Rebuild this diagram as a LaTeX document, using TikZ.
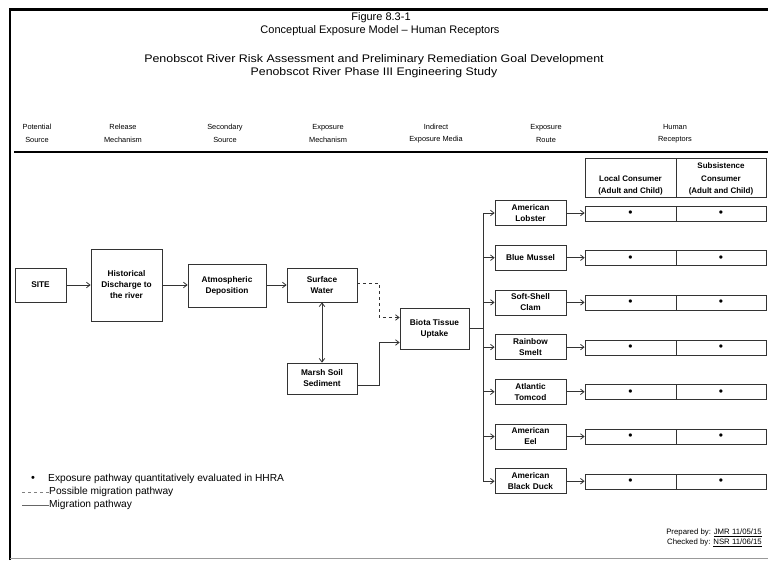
\documentclass[tikz,border=0pt]{standalone}
\usepackage{fontspec}
\usepackage{graphicx}
\setmainfont{Liberation Sans}
\usetikzlibrary{arrows.meta}
\tikzset{
  box/.style={draw=black!80, line width=0.8pt, align=center, inner sep=1pt,
    font=\fontsize{8.3}{11}\selectfont\bfseries},
  routebox/.style={box, minimum width=71pt, minimum height=25pt, text width=66pt},
  cell/.style={draw=black!80, line width=0.8pt, minimum height=15pt, inner sep=0pt,
    font=\fontsize{12}{12}\selectfont},
  hcell/.style={draw=black!80, line width=0.8pt, minimum height=39pt, inner sep=0pt, align=center},
  hcelltext/.style={align=center, inner sep=0pt, font=\fontsize{8}{12.8}\selectfont\bfseries},
  colhead/.style={align=center, font=\fontsize{7.4}{12.5}\selectfont},
  titletext/.style={font=\fontsize{11}{12}\selectfont},
  legtext/.style={anchor=west, inner sep=0pt, font=\fontsize{10.2}{10}\selectfont},
  conn/.style={line width=0.8pt, draw=black!80},
  arr/.style={conn, -{Straight Barb[length=3.5pt,width=5.5pt]}},
  darr/.style={conn, {Straight Barb[length=3.5pt,width=5.5pt]}-{Straight Barb[length=3.5pt,width=5.5pt]}},
}
\begin{document}
\begin{tikzpicture}[x=1pt,y=-1pt]
\useasboundingbox (0,0) rectangle (768,560);
% frame
\draw[line width=2.5pt] (10,560) -- (10,9.5) -- (768,9.5);
\draw[black!40, line width=0.8pt] (10,558.5) -- (768,558.5);
% titles
\node[titletext] (t1) at (381,18) {Figure 8.3-1};
\node[titletext] (t2) at (380,30.5) {Conceptual Exposure Model -- Human Receptors};
\node[titletext] (t3) at (374,60) {\scalebox{1.13}[1]{Penobscot River Risk Assessment and Preliminary Remediation Goal Development}};
\node[titletext] (t4) at (374,72.5) {\scalebox{1.12}[1]{Penobscot River Phase III Engineering Study}};
% column headers
\node[colhead] (h1) at (37,133.5) {Potential\\Source};
\node[colhead] (h2) at (123,133.5) {Release\\Mechanism};
\node[colhead] (h3) at (225,133.5) {Secondary\\Source};
\node[colhead] (h4) at (328,133.5) {Exposure\\Mechanism};
\node[colhead] (h5) at (436,133.5) {Indirect\\Exposure Media};
\node[colhead] (h6) at (546,133.5) {Exposure\\Route};
\node[colhead] (h7) at (675,133.5) {Human\\Receptors};
\draw[line width=1.6pt] (14,152) -- (768,152);
% receptor header cells
\node[hcell, minimum width=91pt] (rc1) at (630.5,177.5) {};
\node[hcell, minimum width=90pt] (rc2) at (721,177.5) {};
\node[hcelltext] (rt1) at (630.5,185.5) {Local Consumer\\(Adult and Child)};
\node[hcelltext] (rt2) at (721,179) {Subsistence\\Consumer\\(Adult and Child)};
% source chain
\node[box, minimum width=51pt, minimum height=34pt] (site) at (40.5,285) {SITE};
\node[box, minimum width=71pt, minimum height=72pt] (hist) at (126.5,285) {Historical\\Discharge to\\the river};
\node[box, minimum width=78pt, minimum height=43pt] (atm) at (227,285.5) {Atmospheric\\Deposition};
\node[box, minimum width=70pt, minimum height=34pt] (sw) at (322,285) {Surface\\Water};
\node[box, minimum width=70pt, minimum height=31pt] (marsh) at (322,378.5) {Marsh Soil\\Sediment};
\node[box, minimum width=69pt, minimum height=41pt] (biota) at (434.5,328.5) {Biota Tissue\\Uptake};
\draw[arr] (site) -- (hist);
\draw[arr] (hist.east) -- (hist.east -| atm.west);
\draw[arr] (sw.west -| atm.east) -- (sw.west);
\draw[darr] (sw) -- (marsh);
\draw[arr, dashed] ([yshift=2pt]sw.east) -- ++(22,0) |- ([yshift=11pt]biota.west);
\draw[arr] ([yshift=-6.5pt]marsh.east) -- ++(22,0) |- ([yshift=-14pt]biota.west);
% exposure routes
\coordinate (tr) at (483,328.5);
\foreach \n/\txt/\yy in {1/{American\\Lobster}/213, 2/{Blue Mussel}/257.7, 3/{Soft-Shell\\Clam}/302.4,
  4/{Rainbow\\Smelt}/347.1, 5/{Atlantic\\Tomcod}/391.8, 6/{American\\Eel}/436.5, 7/{American\\Black Duck}/481.2}{
  \node[routebox] (r\n) at (530.5,\yy) {\txt};
  \node[cell, minimum width=91pt] (a\n) at (630.5,\yy+0.5) {\textbullet};
  \node[cell, minimum width=90pt] (b\n) at (721,\yy+0.5) {\textbullet};
  \draw[arr] (tr |- r\n.west) -- (r\n.west);
  \draw[arr] (r\n.east) -- (r\n.east -| a\n.west);
}
\draw[conn] (biota.east) -- (tr);
\draw[conn] (tr |- r1.west) -- (tr |- r7.west);
% legend
\node[inner sep=0pt, font=\fontsize{11}{11}\selectfont] (lb) at (33,479) {\textbullet};
\node[legtext] (l1) at (48,479) {Exposure pathway quantitatively evaluated in HHRA};
\coordinate (ld1) at (22,492);
\node[legtext] (l2) at (49,492) {Possible migration pathway};
\draw[black!50, line width=0.8pt, dashed] (ld1) -- (l2.west);
\coordinate (ld2) at (22,505);
\node[legtext] (l3) at (49,505) {Migration pathway};
\draw[black!60, line width=0.8pt] (ld2) -- (l3.west);
% prepared
\node[anchor=east, inner sep=0pt, align=right, font=\fontsize{7.8}{10}\selectfont] (prep) at (762,538)
  {Prepared by: \underline{JMR 11/05/15}\\Checked by: \underline{NSR 11/06/15}};
\end{tikzpicture}
\end{document}
